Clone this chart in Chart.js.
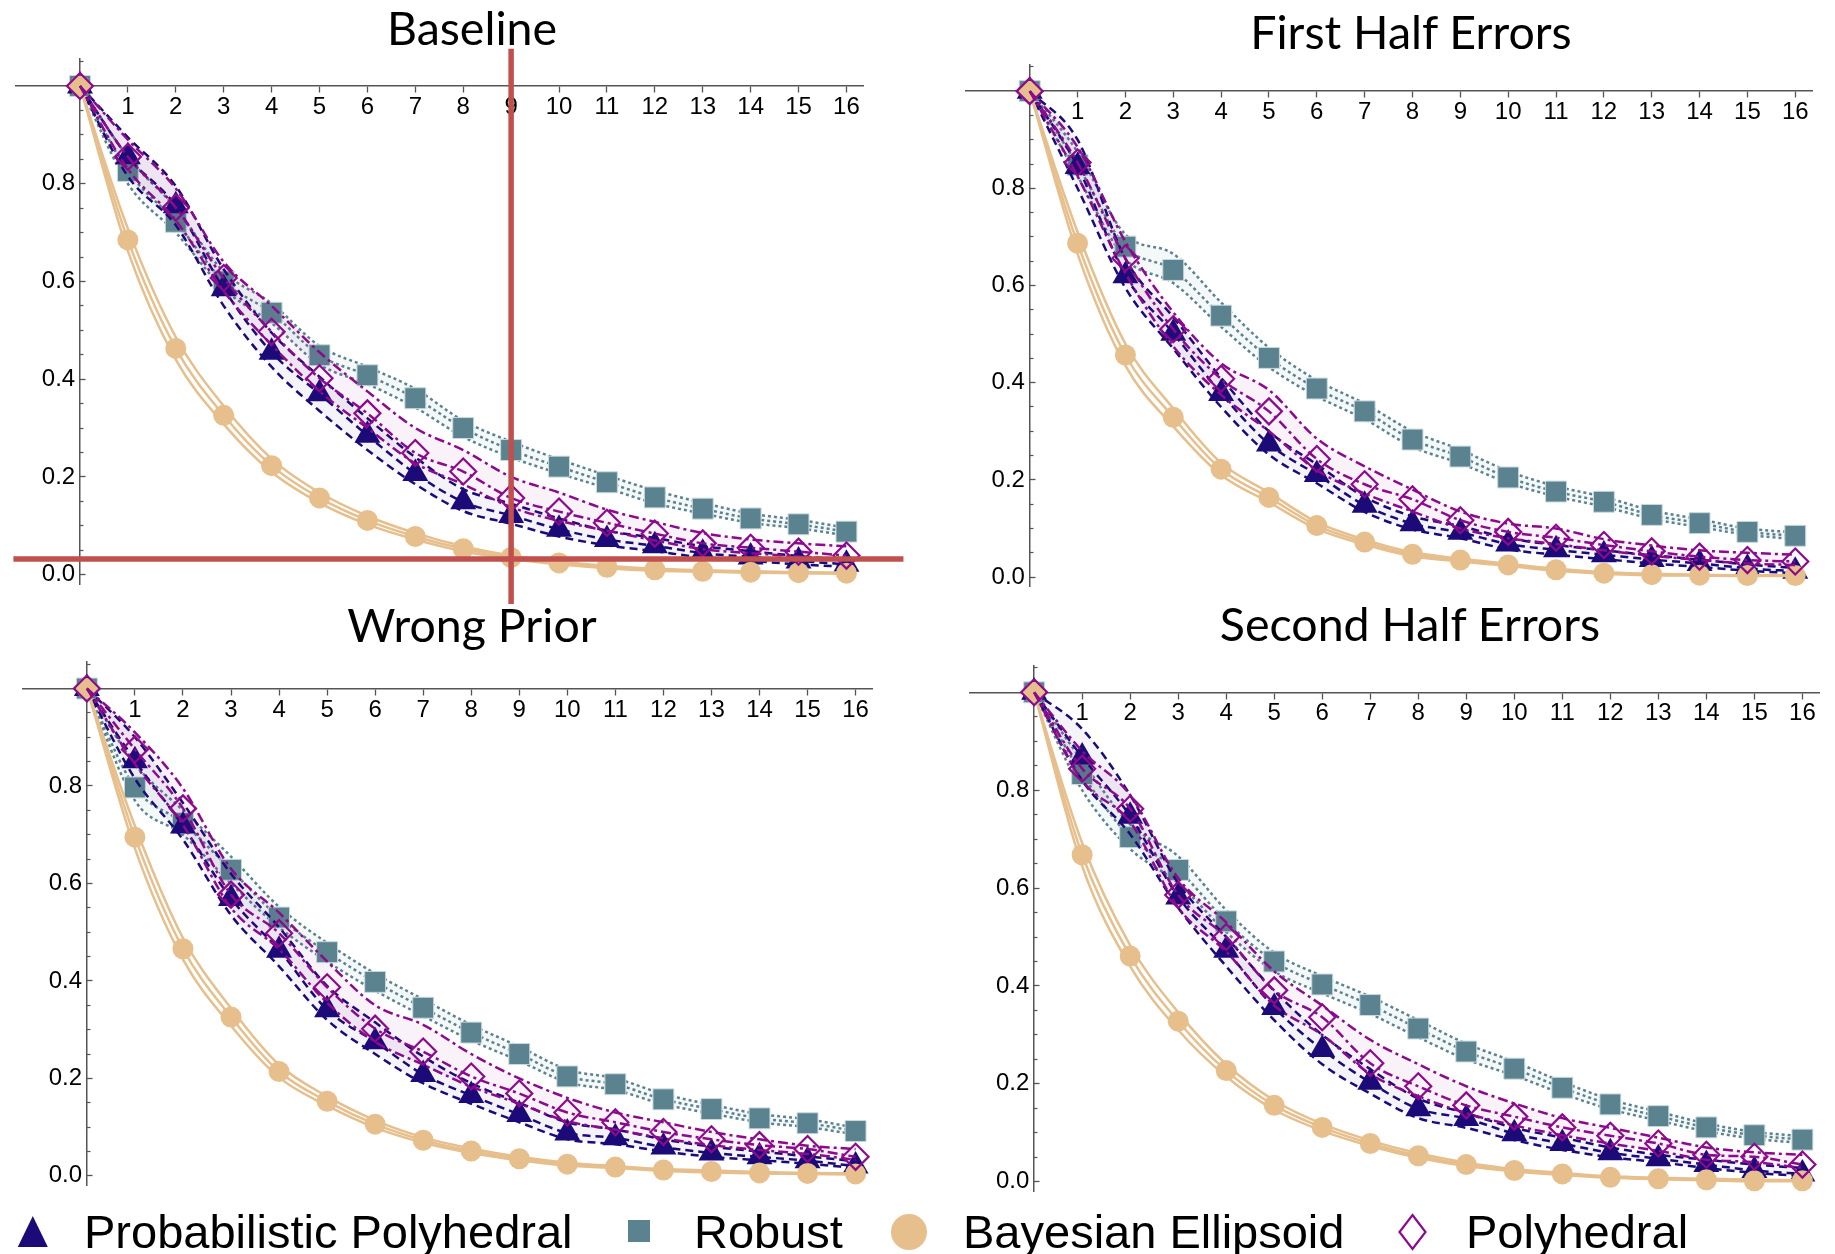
<!DOCTYPE html>
<html>
<head>
<meta charset="utf-8">
<title>Error decay by step</title>
<script src="https://cdn.jsdelivr.net/npm/chart.js@4.4.1/dist/chart.umd.min.js"></script>
<style>
	html, body { margin: 0; padding: 0; background: #fff; }
	#page { position: relative; width: 1835px; height: 1254px; overflow: hidden; background: #fff; }
	#page canvas { position: absolute; }
	.panel-title { position: absolute; width: 700px; text-align: center; font-family: Lato, "Open Sans", sans-serif; font-size: 46.5px; line-height: 46px; color: #000; white-space: nowrap; }
	.legend-text { position: absolute; top: 1208px; font-family: "Liberation Sans", Arial, sans-serif; font-size: 47px; line-height: 47px; color: #000; white-space: nowrap; }
	#legend-marks { position: absolute; left: 0; top: 1195px; }
</style>
</head>
<body>
<div id="page">
	<canvas id="chart-baseline" width="918" height="612" style="left:0px;top:0px"></canvas>
	<canvas id="chart-first" width="917" height="612" style="left:918px;top:0px"></canvas>
	<canvas id="chart-wrong" width="918" height="654" style="left:0px;top:600px"></canvas>
	<canvas id="chart-second" width="917" height="654" style="left:918px;top:600px"></canvas>

	<div class="panel-title" style="left:122px;top:4px">Baseline</div>
	<div class="panel-title" style="left:1061px;top:8px">First Half Errors</div>
	<div class="panel-title" style="left:122px;top:601px">Wrong Prior</div>
	<div class="panel-title" style="left:1060px;top:600px">Second Half Errors</div>

	<svg id="legend-marks" width="1835" height="59">
		<polygon points="32.8,21 17.8,52 47.8,52" fill="#1b0a78"></polygon>
		<rect x="628" y="25" width="22" height="22" fill="#5b828f"></rect>
		<circle cx="909" cy="37" r="18" fill="#e6bf8c"></circle>
		<polygon points="1412.5,20 1425.5,37 1412.5,54 1399.5,37" fill="none" stroke="#8c0a8c" stroke-width="2.2"></polygon>
	</svg>
	<div class="legend-text" style="left:84px">Probabilistic Polyhedral</div>
	<div class="legend-text" style="left:694px">Robust</div>
	<div class="legend-text" style="left:963px">Bayesian Ellipsoid</div>
	<div class="legend-text" style="left:1466px">Polyhedral</div>
</div>

<script>
	'use strict';

	// steps on the x axis, shared by all panels
	var steps = [0, 1, 2, 3, 4, 5, 6, 7, 8, 9, 10, 11, 12, 13, 14, 15, 16];
	var xTickValues = [0, 1, 2, 3, 4, 5, 6, 7, 8, 9, 10, 11, 12, 13, 14, 15, 16];
	var yMajorTicks = [0, 0.2, 0.4, 0.6, 0.8, 1.0];
	var yMinorTicks = [0.05, 0.1, 0.15, 0.25, 0.3, 0.35, 0.45, 0.5, 0.55, 0.65, 0.7, 0.75, 0.85, 0.9, 0.95, 1.05];

	// Baseline
	var baseProbMid = [1.0, 0.855, 0.755, 0.585, 0.455, 0.37, 0.285, 0.207, 0.149, 0.121, 0.093, 0.072, 0.059, 0.044, 0.036, 0.028, 0.021];
	var baseProbLo  = [1.0, 0.815, 0.715, 0.55, 0.425, 0.335, 0.255, 0.185, 0.13, 0.104, 0.078, 0.06, 0.048, 0.035, 0.028, 0.021, 0.016];
	var baseProbHi  = [1.0, 0.895, 0.795, 0.625, 0.495, 0.405, 0.32, 0.24, 0.175, 0.145, 0.115, 0.09, 0.075, 0.058, 0.048, 0.038, 0.03];
	var baseRobMid  = [1.0, 0.826, 0.722, 0.6, 0.536, 0.449, 0.408, 0.361, 0.3, 0.255, 0.221, 0.189, 0.158, 0.135, 0.115, 0.103, 0.088];
	var baseRobLo   = [1.0, 0.8, 0.7, 0.585, 0.515, 0.43, 0.39, 0.342, 0.282, 0.24, 0.207, 0.177, 0.146, 0.125, 0.106, 0.095, 0.08];
	var baseRobHi   = [1.0, 0.855, 0.75, 0.62, 0.555, 0.468, 0.425, 0.38, 0.315, 0.272, 0.236, 0.203, 0.172, 0.147, 0.125, 0.112, 0.096];
	var baseBayMid  = [1.0, 0.685, 0.463, 0.326, 0.223, 0.157, 0.111, 0.078, 0.053, 0.035, 0.024, 0.015, 0.01, 0.007, 0.005, 0.004, 0.003];
	var baseBayLo   = [1.0, 0.662, 0.44, 0.308, 0.21, 0.147, 0.103, 0.072, 0.048, 0.032, 0.021, 0.013, 0.008, 0.006, 0.004, 0.003, 0.002];
	var baseBayHi   = [1.0, 0.708, 0.486, 0.345, 0.237, 0.168, 0.12, 0.085, 0.058, 0.039, 0.027, 0.018, 0.012, 0.009, 0.007, 0.005, 0.004];
	var basePolyMid = [1.0, 0.855, 0.751, 0.607, 0.497, 0.402, 0.33, 0.249, 0.211, 0.157, 0.129, 0.106, 0.084, 0.064, 0.055, 0.047, 0.039];
	var basePolyLo  = [1.0, 0.83, 0.725, 0.58, 0.47, 0.375, 0.3, 0.228, 0.185, 0.138, 0.11, 0.09, 0.07, 0.052, 0.044, 0.037, 0.03];
	var basePolyHi  = [1.0, 0.89, 0.79, 0.64, 0.55, 0.455, 0.375, 0.3, 0.255, 0.2, 0.168, 0.133, 0.108, 0.085, 0.072, 0.064, 0.058];

	// First half errors
	var firstProbMid = [1.0, 0.845, 0.62, 0.502, 0.378, 0.274, 0.211, 0.148, 0.11, 0.092, 0.068, 0.056, 0.046, 0.036, 0.028, 0.018, 0.012];
	var firstProbLo  = [1.0, 0.8, 0.595, 0.47, 0.35, 0.252, 0.193, 0.134, 0.098, 0.08, 0.057, 0.046, 0.037, 0.028, 0.021, 0.013, 0.008];
	var firstProbHi  = [1.0, 0.9, 0.655, 0.535, 0.41, 0.3, 0.232, 0.165, 0.125, 0.105, 0.08, 0.066, 0.055, 0.045, 0.036, 0.026, 0.019];
	var firstRobMid  = [1.0, 0.848, 0.68, 0.632, 0.538, 0.451, 0.388, 0.341, 0.283, 0.248, 0.205, 0.176, 0.155, 0.128, 0.111, 0.093, 0.085];
	var firstRobLo   = [1.0, 0.825, 0.655, 0.605, 0.515, 0.432, 0.372, 0.325, 0.268, 0.234, 0.194, 0.166, 0.145, 0.12, 0.103, 0.087, 0.078];
	var firstRobHi   = [1.0, 0.875, 0.705, 0.665, 0.565, 0.472, 0.405, 0.357, 0.3, 0.262, 0.218, 0.187, 0.165, 0.137, 0.119, 0.1, 0.092];
	var firstBayMid  = [1.0, 0.687, 0.457, 0.329, 0.222, 0.164, 0.106, 0.072, 0.047, 0.035, 0.025, 0.015, 0.008, 0.005, 0.004, 0.003, 0.003];
	var firstBayLo   = [1.0, 0.665, 0.435, 0.31, 0.21, 0.154, 0.099, 0.067, 0.043, 0.032, 0.023, 0.013, 0.007, 0.004, 0.003, 0.002, 0.002];
	var firstBayHi   = [1.0, 0.71, 0.48, 0.347, 0.235, 0.174, 0.113, 0.077, 0.051, 0.038, 0.027, 0.017, 0.01, 0.007, 0.005, 0.004, 0.004];
	var firstPolyMid = [1.0, 0.853, 0.656, 0.51, 0.408, 0.341, 0.243, 0.191, 0.16, 0.117, 0.093, 0.081, 0.066, 0.053, 0.042, 0.035, 0.032];
	var firstPolyLo  = [1.0, 0.825, 0.625, 0.475, 0.375, 0.3, 0.22, 0.172, 0.135, 0.1, 0.08, 0.068, 0.055, 0.044, 0.035, 0.028, 0.025];
	var firstPolyHi  = [1.0, 0.885, 0.69, 0.545, 0.44, 0.385, 0.285, 0.228, 0.18, 0.135, 0.11, 0.1, 0.078, 0.065, 0.055, 0.05, 0.046];

	// Wrong prior
	var wrongProbMid = [1.0, 0.852, 0.718, 0.569, 0.463, 0.341, 0.275, 0.208, 0.165, 0.126, 0.088, 0.078, 0.059, 0.047, 0.039, 0.031, 0.02];
	var wrongProbLo  = [1.0, 0.815, 0.69, 0.535, 0.43, 0.32, 0.25, 0.19, 0.148, 0.11, 0.075, 0.065, 0.05, 0.039, 0.032, 0.025, 0.016];
	var wrongProbHi  = [1.0, 0.9, 0.765, 0.62, 0.51, 0.39, 0.315, 0.245, 0.19, 0.15, 0.11, 0.095, 0.075, 0.06, 0.05, 0.04, 0.03];
	var wrongRobMid  = [1.0, 0.797, 0.724, 0.628, 0.53, 0.459, 0.398, 0.345, 0.294, 0.25, 0.204, 0.188, 0.157, 0.137, 0.118, 0.108, 0.092];
	var wrongRobLo   = [1.0, 0.77, 0.7, 0.6, 0.51, 0.44, 0.38, 0.328, 0.278, 0.236, 0.192, 0.176, 0.147, 0.128, 0.11, 0.1, 0.085];
	var wrongRobHi   = [1.0, 0.845, 0.75, 0.655, 0.552, 0.478, 0.415, 0.362, 0.31, 0.265, 0.218, 0.2, 0.168, 0.146, 0.127, 0.116, 0.099];
	var wrongBayMid  = [1.0, 0.695, 0.466, 0.326, 0.214, 0.153, 0.106, 0.073, 0.051, 0.035, 0.024, 0.018, 0.012, 0.009, 0.006, 0.005, 0.004];
	var wrongBayLo   = [1.0, 0.672, 0.444, 0.308, 0.202, 0.144, 0.099, 0.068, 0.047, 0.032, 0.021, 0.016, 0.01, 0.007, 0.005, 0.004, 0.003];
	var wrongBayHi   = [1.0, 0.718, 0.488, 0.344, 0.228, 0.163, 0.114, 0.079, 0.056, 0.039, 0.027, 0.02, 0.014, 0.011, 0.008, 0.006, 0.005];
	var wrongPolyMid = [1.0, 0.875, 0.754, 0.577, 0.498, 0.387, 0.302, 0.255, 0.204, 0.169, 0.13, 0.11, 0.09, 0.075, 0.063, 0.055, 0.039];
	var wrongPolyLo  = [1.0, 0.845, 0.72, 0.55, 0.465, 0.355, 0.275, 0.228, 0.183, 0.148, 0.112, 0.095, 0.077, 0.063, 0.053, 0.045, 0.033];
	var wrongPolyHi  = [1.0, 0.91, 0.795, 0.63, 0.54, 0.44, 0.35, 0.31, 0.25, 0.2, 0.16, 0.13, 0.11, 0.09, 0.075, 0.062, 0.055];

	// Second half errors
	var secondProbMid = [1.0, 0.868, 0.747, 0.582, 0.473, 0.356, 0.27, 0.203, 0.149, 0.129, 0.098, 0.078, 0.059, 0.047, 0.035, 0.023, 0.016];
	var secondProbLo  = [1.0, 0.82, 0.71, 0.56, 0.44, 0.33, 0.24, 0.18, 0.13, 0.11, 0.085, 0.065, 0.05, 0.04, 0.028, 0.018, 0.012];
	var secondProbHi  = [1.0, 0.925, 0.79, 0.61, 0.5, 0.39, 0.3, 0.23, 0.17, 0.14, 0.11, 0.09, 0.07, 0.055, 0.045, 0.035, 0.028];
	var secondRobMid  = [1.0, 0.833, 0.704, 0.637, 0.532, 0.45, 0.403, 0.361, 0.313, 0.266, 0.231, 0.192, 0.158, 0.134, 0.111, 0.095, 0.086];
	var secondRobLo   = [1.0, 0.8, 0.68, 0.61, 0.51, 0.43, 0.385, 0.343, 0.295, 0.25, 0.217, 0.18, 0.148, 0.125, 0.103, 0.088, 0.079];
	var secondRobHi   = [1.0, 0.86, 0.73, 0.665, 0.555, 0.468, 0.42, 0.378, 0.33, 0.282, 0.245, 0.204, 0.168, 0.143, 0.119, 0.102, 0.093];
	var secondBayMid  = [1.0, 0.668, 0.461, 0.328, 0.227, 0.156, 0.111, 0.078, 0.053, 0.035, 0.023, 0.016, 0.009, 0.006, 0.004, 0.002, 0.002];
	var secondBayLo   = [1.0, 0.645, 0.44, 0.31, 0.215, 0.147, 0.104, 0.073, 0.049, 0.032, 0.021, 0.014, 0.008, 0.005, 0.003, 0.001, 0.001];
	var secondBayHi   = [1.0, 0.692, 0.483, 0.346, 0.24, 0.166, 0.118, 0.084, 0.058, 0.039, 0.026, 0.018, 0.011, 0.008, 0.006, 0.004, 0.003];
	var secondPolyMid = [1.0, 0.844, 0.762, 0.586, 0.5, 0.391, 0.336, 0.242, 0.195, 0.156, 0.133, 0.111, 0.094, 0.078, 0.055, 0.051, 0.035];
	var secondPolyLo  = [1.0, 0.82, 0.735, 0.56, 0.47, 0.36, 0.3, 0.22, 0.175, 0.14, 0.115, 0.095, 0.078, 0.063, 0.045, 0.04, 0.028];
	var secondPolyHi  = [1.0, 0.88, 0.79, 0.62, 0.53, 0.43, 0.36, 0.29, 0.24, 0.195, 0.16, 0.13, 0.11, 0.09, 0.07, 0.06, 0.055];

	// red guide lines on the baseline panel (in data units)
	var guideStep = 9;
	var guideLevel = 0.032;
	var guideXSpan = [-1.39, 17.19];
	var guideYSpan = [-0.06, 1.076];

	var X_MIN = -1.34, X_MAX = 16.35, Y_MIN = -0.02, Y_MAX = 1.055;
	var AXIS_COLOR = '#555555';
	var TICK_FONT = { family: '"Liberation Sans", Arial, sans-serif', size: 24 };

	var styles = {
		prob:   { color: '#1b0a78', dash: [8, 5], band: 'rgba(27, 10, 120, 0.05)', point: 'triangle', radius: 15, pointBg: '#1b0a78', pointBorder: '#1b0a78', pointBorderWidth: 0 },
		robust: { color: '#5b828f', dash: [3, 3], band: 'rgba(91, 130, 143, 0.06)', point: 'rect', radius: 14.8, pointBg: '#5b828f', pointBorder: '#c9dade', pointBorderWidth: 1 },
		bayes:  { color: '#e6bf8c', dash: [], band: null, point: 'circle', radius: 10.5, pointBg: '#e6bf8c', pointBorder: '#e6bf8c', pointBorderWidth: 0 },
		poly:   { color: '#8c0a8c', dash: [10, 4, 3, 4], band: 'rgba(140, 10, 140, 0.055)', point: 'rectRot', radius: 13, pointBg: 'rgba(255, 255, 255, 0)', pointBorder: '#8c0a8c', pointBorderWidth: 2.2 }
	};

	function toPoints(values) {
		return values.map(function(v, i) { return { x: steps[i], y: v }; });
	}

	// low / high band lines plus the marked middle line for one method
	function methodDatasets(label, lo, mid, hi, st, order) {
		var line = {
			showLine: true,
			borderColor: st.color,
			borderWidth: 2.5,
			borderDash: st.dash,
			pointRadius: 0,
			cubicInterpolationMode: 'monotone',
			clip: false,
			yAxisID: 'y'
		};
		return [
			Object.assign({}, line, { label: label + ' low', data: toPoints(lo), fill: false, order: order + 1 }),
			Object.assign({}, line, { label: label + ' high', data: toPoints(hi), fill: st.band ? '-1' : false, backgroundColor: st.band || 'transparent', order: order + 1 }),
			Object.assign({}, line, {
				label: label,
				data: toPoints(mid),
				fill: false,
				order: order,
				pointStyle: st.point,
				pointRadius: st.radius,
				pointBackgroundColor: st.pointBg,
				pointBorderColor: st.pointBorder,
				pointBorderWidth: st.pointBorderWidth
			})
		];
	}

	function tickList(values) {
		return values.map(function(v) { return { value: v }; });
	}

	// Mathematica-like axes: x axis crossing at y = 1, y axis at x = 0
	function scaleOptions() {
		return {
			x: {
				type: 'linear', min: X_MIN, max: X_MAX,
				position: { y: 1 },
				afterBuildTicks: function(scale) { scale.ticks = tickList(xTickValues); },
				grid: { drawOnChartArea: false, drawTicks: true, tickLength: 6, tickWidth: 1.3, tickColor: AXIS_COLOR },
				border: { display: true, color: AXIS_COLOR, width: 1.5 },
				ticks: {
					autoSkip: false, maxRotation: 0, padding: 1, color: '#000', font: TICK_FONT,
					callback: function(v) { return v === 0 ? '' : String(v); }
				}
			},
			y: {
				type: 'linear', min: Y_MIN, max: Y_MAX,
				position: { x: 0 },
				afterBuildTicks: function(scale) { scale.ticks = tickList(yMajorTicks); },
				grid: { drawOnChartArea: false, drawTicks: true, tickLength: -6.5, tickWidth: 1.3, tickColor: AXIS_COLOR },
				border: { display: true, color: AXIS_COLOR, width: 1.5 },
				ticks: {
					autoSkip: false, color: '#000', font: TICK_FONT,
					callback: function(v) { return v >= 0.99 ? '' : v.toFixed(1) + '\u2009'; }
				}
			},
			yMinor: {
				axis: 'y', type: 'linear', min: Y_MIN, max: Y_MAX,
				position: { x: 0 },
				afterBuildTicks: function(scale) { scale.ticks = tickList(yMinorTicks); },
				grid: { drawOnChartArea: false, drawTicks: true, tickLength: -3.5, tickWidth: 1.2, tickColor: AXIS_COLOR },
				border: { display: false },
				ticks: { display: false }
			}
		};
	}

	var guideLines = {
		id: 'guideLines',
		afterDraw: function(chart) {
			var ctx = chart.ctx;
			var xs = chart.scales.x;
			var ys = chart.scales.y;
			var gx = xs.getPixelForValue(guideStep);
			var gy = ys.getPixelForValue(guideLevel);
			ctx.save();
			ctx.strokeStyle = '#c0504d';
			ctx.lineWidth = 5.5;
			ctx.beginPath();
			ctx.moveTo(gx, ys.getPixelForValue(guideYSpan[1]));
			ctx.lineTo(gx, ys.getPixelForValue(guideYSpan[0]));
			ctx.moveTo(xs.getPixelForValue(guideXSpan[0]), gy);
			ctx.lineTo(xs.getPixelForValue(guideXSpan[1]), gy);
			ctx.stroke();
			ctx.restore();
		}
	};

	function buildPanel(canvasId, padding, s, plugins) {
		var datasets = []
			.concat(methodDatasets('Polyhedral', s.polyLo, s.polyMid, s.polyHi, styles.poly, 0))
			.concat(methodDatasets('Bayesian Ellipsoid', s.bayLo, s.bayMid, s.bayHi, styles.bayes, 2))
			.concat(methodDatasets('Probabilistic Polyhedral', s.probLo, s.probMid, s.probHi, styles.prob, 4))
			.concat(methodDatasets('Robust', s.robLo, s.robMid, s.robHi, styles.robust, 6));

		return new Chart(document.getElementById(canvasId), {
			type: 'line',
			data: { datasets: datasets },
			options: {
				responsive: false,
				animation: false,
				devicePixelRatio: 1,
				events: [],
				layout: { padding: padding },
				plugins: { legend: { display: false }, tooltip: { enabled: false }, title: { display: false } },
				scales: scaleOptions()
			},
			plugins: plugins || []
		});
	}

	Chart.defaults.font.family = '"Liberation Sans", Arial, sans-serif';

	buildPanel('chart-baseline', { left: 11.8, right: 54.8, top: 59.1, bottom: 27.6 }, {
		probLo: baseProbLo, probMid: baseProbMid, probHi: baseProbHi,
		robLo: baseRobLo, robMid: baseRobMid, robHi: baseRobHi,
		bayLo: baseBayLo, bayMid: baseBayMid, bayHi: baseBayHi,
		polyLo: basePolyLo, polyMid: basePolyMid, polyHi: basePolyHi
	}, [guideLines]);

	buildPanel('chart-first', { left: 47.6, right: 23, top: 64.4, bottom: 25.2 }, {
		probLo: firstProbLo, probMid: firstProbMid, probHi: firstProbHi,
		robLo: firstRobLo, robMid: firstRobMid, robHi: firstRobHi,
		bayLo: firstBayLo, bayMid: firstBayMid, bayHi: firstBayHi,
		polyLo: firstPolyLo, polyMid: firstPolyMid, polyHi: firstPolyHi
	});

	buildPanel('chart-wrong', { left: 22.5, right: 45.6, top: 61.7, bottom: 68.4 }, {
		probLo: wrongProbLo, probMid: wrongProbMid, probHi: wrongProbHi,
		robLo: wrongRobLo, robMid: wrongRobMid, robHi: wrongRobHi,
		bayLo: wrongBayLo, bayMid: wrongBayMid, bayHi: wrongBayHi,
		polyLo: wrongPolyLo, polyMid: wrongPolyMid, polyHi: wrongPolyHi
	});

	buildPanel('chart-second', { left: 51.8, right: 12.9, top: 65.4, bottom: 62.5 }, {
		probLo: secondProbLo, probMid: secondProbMid, probHi: secondProbHi,
		robLo: secondRobLo, robMid: secondRobMid, robHi: secondRobHi,
		bayLo: secondBayLo, bayMid: secondBayMid, bayHi: secondBayHi,
		polyLo: secondPolyLo, polyMid: secondPolyMid, polyHi: secondPolyHi
	});
</script>
</body>
</html>
